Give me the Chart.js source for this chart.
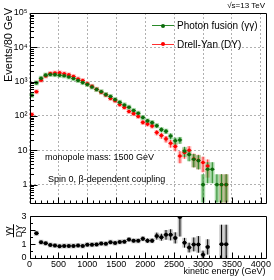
<!DOCTYPE html>
<html><head><meta charset="utf-8">
<script src="https://cdn.jsdelivr.net/npm/chart.js@4.4.0/dist/chart.umd.min.js"></script>
<style>
html,body{margin:0;padding:0;background:#fff;}
body{width:274px;height:280px;position:relative;overflow:hidden;font-family:"Liberation Sans",Arial,sans-serif;}
#c1wrap{position:absolute;left:0;top:0;width:274px;height:210px;}
#c2wrap{position:absolute;left:0;top:208px;width:274px;height:72px;overflow:hidden;}
.t{position:absolute;white-space:nowrap;color:#000;line-height:1;}
.rot{position:absolute;transform:translate(-50%,-50%) rotate(-90deg);white-space:nowrap;line-height:1;color:#000;}
.frac{display:flex;flex-direction:column;align-items:center;font-size:9px;}
.frac .den{border-top:1px solid #000;padding-top:1px;}
</style></head><body>
<div id="c2wrap"><canvas id="c2" width="274" height="72"></canvas></div>
<div id="c1wrap"><canvas id="c1" width="274" height="210"></canvas></div>

<div class="rot" style="left:8px;top:45px;font-size:11px;">Events/80 GeV</div>
<div class="rot" style="left:14px;top:231px;"><div class="frac"><span>γγ</span><span class="den">DY</span></div></div>
<div class="t" style="right:9px;top:2px;font-size:8px;">√s=13 TeV</div>
<div class="t" style="left:45px;top:152.5px;font-size:9px;">monopole mass: 1500 GeV</div>
<div class="t" style="left:48px;top:174.5px;font-size:9px;">Spin 0, β-dependent coupling</div>
<div class="t" style="right:8.5px;top:267px;font-size:9px;">kinetic energy (GeV)</div>

<div style="position:absolute;left:152px;top:25px;width:22px;height:1px;background:#2a8a2a"></div>
<div style="position:absolute;left:161px;top:23.5px;width:4px;height:4px;border-radius:50%;background:#0b6b0b"></div>
<div class="t" style="left:177px;top:21px;font-size:10px;">Photon fusion (γγ)</div>
<div style="position:absolute;left:152px;top:43.5px;width:22px;height:1px;background:#ff3030"></div>
<div style="position:absolute;left:161px;top:42px;width:4px;height:4px;border-radius:50%;background:#ff0000"></div>
<div class="t" style="left:177px;top:39.5px;font-size:10px;">Drell-Yan (DY)</div>

<script>
// ---- data (bin centres in GeV, 80 GeV bins) ----
const bins = [40,120,200,280,360,440,520,600,680,760,840,920,1000,1080,1160,1240,1320,1400,1480,1560,1640,1720,1800,1880,1960,2040,2120,2200,2280,2360,2440,2520,2600,2680,2760,2840,2920,3000,3080,3160,3240,3320,3400];
const photonFusion = [400,920,1250,1550,1620,1600,1530,1480,1370,1230,1080,940,830,700,590,510,420,370,300,250,210,180,145,120,90,72,64,52,40,36,26,19,20,9.5,7.5,5.5,5,1,2.8,2.8,1,1,1];
const photonFusionErr = [20,30,35,39,40,40,39,38,37,35,33,31,29,26,24,23,20,19,17,16,14,13,12,11,9.5,8.5,8,7.2,6.3,6,5.1,4.4,4.5,3.1,2.7,2.3,2.2,1,1.7,1.7,1,1,1];
const drellYan = [110,510,1100,1460,1720,1780,1800,1700,1575,1415,1200,1080,865,730,600,490,412,325,278,215,178,135,117,97,65,58,51,33,27,21.5,16,13,6.8,8.6,10,5.6,5.1,4.4,3.5,null,null,1,1];
const drellYanErr = [10,23,33,38,41,42,42,41,40,38,35,33,29,27,24,22,20,18,17,15,13,12,11,10,8,7.6,7.1,5.7,5.2,4.6,4,3.6,2.6,2.9,3.2,2.4,2.3,2.1,1.9,0,0,1,1];
const ratio = [null,1.78,1.14,1.06,0.94,0.90,0.85,0.87,0.87,0.87,0.90,0.87,0.96,0.96,0.98,1.04,1.02,1.14,1.08,1.16,1.18,1.33,1.24,1.24,1.39,1.25,1.25,1.58,1.50,1.67,1.67,1.45,2.95,1.10,0.75,0.98,0.98,0.23,0.80,null,null,1.0,1.0];
const ratioErr = [0,0.1,0.05,0.05,0.05,0.05,0.05,0.05,0.05,0.05,0.05,0.05,0.05,0.05,0.05,0.05,0.05,0.05,0.05,0.05,0.06,0.08,0.1,0.1,0.15,0.15,0.15,0.25,0.25,0.35,0.4,0.4,1.4,0.35,0.35,0.5,0.6,0.3,0.55,0,0,1.4,1.4];
const xTicks = [0,500,1000,1500,2000,2500,3000,3500,4000];
const xTickLabels = ['0','500','1000','1500','2000','2500','3000','3500','4000'];
const yTicks = [1,10,100,1000,10000,100000];
const yTickLabels = ['1','10','10²','10³','10⁴','10⁵'];
const ratioTicks = [0,1,2,3];
const ratioTickLabels = ['0','1','2','3'];
const xStep = 500;
const binWidth = 80;

const FONT = '"Liberation Sans", Arial, sans-serif';
const pts = (vals) => bins.map((b,i)=>({x:b, y:vals[i]}));

function crisp(v){ return Math.round(v)+0.5; }

function errPluginFactory(id){
  return {
    id,
    beforeDatasetsDraw(chart){
      const {ctx, chartArea:a} = chart;
      const x = chart.scales.x, y = chart.scales.y;
      ctx.save();
      ctx.beginPath(); ctx.rect(a.left, a.top, a.right-a.left, a.bottom-a.top); ctx.clip();
      const order = chart.data.datasets.map((d,i)=>i).reverse();
      order.forEach(di=>{
        const ds = chart.data.datasets[di];
        ds.data.forEach((p,i)=>{
          if(p.y==null) return;
          const e = ds.errs[i];
          const px = x.getPixelForValue(p.x);
          const py = y.getPixelForValue(p.y);
          const yTop = y.getPixelForValue(p.y+e);
          const lo = p.y - e;
          const yBot = (lo>0 || y.type!=='logarithmic') ? y.getPixelForValue(lo) : a.bottom+10;
          const hw = (x.getPixelForValue(p.x+binWidth/2)-x.getPixelForValue(p.x-binWidth/2))/2;
          const bt = Math.min(yTop, py-2.5), bb = Math.max(yBot, py+2.5);
          ctx.fillStyle = ds.boxColor;
          ctx.fillRect(px-2.2, bt, 4.4, bb-bt);
          ctx.strokeStyle = ds.lineColor; ctx.lineWidth = 1;
          ctx.beginPath(); ctx.moveTo(px, yTop); ctx.lineTo(px, yBot); ctx.stroke();
          ctx.beginPath(); ctx.moveTo(px-hw, py); ctx.lineTo(px+hw, py); ctx.stroke();
        });
      });
      ctx.restore();
    }
  };
}

function framePluginFactory(id, yMinor, yMajor, yMajorLen, yMinorLen){
  return {
    id,
    afterDraw(chart){
      const {ctx, chartArea:a} = chart;
      const x = chart.scales.x, y = chart.scales.y;
      ctx.save();
      ctx.strokeStyle = '#000'; ctx.lineWidth = 1;
      const L = crisp(a.left), R = crisp(a.right), T = crisp(a.top), B = crisp(a.bottom);
      ctx.beginPath(); ctx.rect(L, T, R-L, B-T); ctx.stroke();
      ctx.beginPath();
      for(let v=0; v<=x.max; v+=100){
        const px = crisp(x.getPixelForValue(v));
        const len = (v % xStep === 0) ? 6 : 3;
        ctx.moveTo(px, B); ctx.lineTo(px, B-len);
      }
      yMinor.forEach(v=>{
        if(v < y.min || v > y.max) return;
        const py = crisp(y.getPixelForValue(v));
        ctx.moveTo(L, py); ctx.lineTo(L+yMinorLen, py);
      });
      yMajor.forEach(v=>{
        const py = crisp(y.getPixelForValue(v));
        ctx.moveTo(L, py); ctx.lineTo(L+yMajorLen, py);
      });
      ctx.stroke();
      ctx.restore();
    }
  };
}

const logMinor = [];
[0.1,1,10,100,1000,10000].forEach(d=>{ for(let k=2;k<=9;k++) logMinor.push(k*d); });

// ---- main chart ----
new Chart(document.getElementById('c1'), {
  type: 'scatter',
  data: { datasets: [
    { label:'Photon fusion (γγ)', data: pts(photonFusion), errs: photonFusionErr,
      backgroundColor:'#0b6b0b', borderColor:'#0b6b0b', lineColor:'#2a8a2a', boxColor:'rgba(60,170,60,0.45)',
      pointRadius:1.8, pointBorderWidth:0, showLine:false },
    { label:'Drell-Yan (DY)', data: pts(drellYan), errs: drellYanErr,
      backgroundColor:'#ff0000', borderColor:'#ff0000', lineColor:'#ff3030', boxColor:'rgba(255,110,110,0.45)',
      pointRadius:1.8, pointBorderWidth:0, showLine:false }
  ]},
  options: {
    responsive:false, animation:false, devicePixelRatio:1,
    layout:{ padding:{ left:0, top:13, right:8.5, bottom:0 } },
    plugins:{ legend:{display:false}, tooltip:{enabled:false} },
    scales:{
      x:{ type:'linear', min:0, max:4080,
          afterBuildTicks(s){ s.ticks = xTicks.map(v=>({value:v})); },
          ticks:{ display:false },
          grid:{ color:'#b0b0b0', drawTicks:false, lineWidth:1 },
          border:{ display:false, dash:[2,2] },
          afterFit(s){ s.height = 2; } },
      y:{ type:'logarithmic', min:0.3, max:100000,
          afterBuildTicks(s){ s.ticks = yTicks.map(v=>({value:v})); },
          ticks:{ callback:(v,i)=>yTickLabels[i], font:{size:9, family:FONT}, color:'#000', padding:2, autoSkip:false },
          grid:{ color:'#b0b0b0', drawTicks:false, lineWidth:1 },
          border:{ display:false, dash:[2,2] },
          afterFit(s){ s.width = 29.5; } }
    }
  },
  plugins:[ errPluginFactory('errMain'), framePluginFactory('frameMain', logMinor, yTicks, 7, 3.5) ]
});

// ---- ratio chart ----
const ratioMinor = [0.5,1.5,2.5];
new Chart(document.getElementById('c2'), {
  type: 'scatter',
  data: { datasets: [
    { label:'γγ/DY', data: pts(ratio), errs: ratioErr,
      backgroundColor:'#000', borderColor:'#000', lineColor:'#000', boxColor:'rgba(120,120,120,0.45)',
      pointRadius:2, pointBorderWidth:0, showLine:false }
  ]},
  options: {
    responsive:false, animation:false, devicePixelRatio:1,
    layout:{ padding:{ left:0, top:0, right:8.5, bottom:0 } },
    plugins:{ legend:{display:false}, tooltip:{enabled:false} },
    scales:{
      x:{ type:'linear', min:0, max:4080,
          afterBuildTicks(s){ s.ticks = xTicks.map(v=>({value:v})); },
          ticks:{ callback:(v,i)=>xTickLabels[i], font:{size:9, family:FONT}, color:'#000', padding:1, maxRotation:0, autoSkip:false },
          grid:{ display:false, drawTicks:false },
          border:{ display:false },
          afterFit(s){ s.height = 22; } },
      y:{ type:'linear', min:0, max:3,
          afterBuildTicks(s){ s.ticks = ratioTicks.map(v=>({value:v})); },
          ticks:{ callback:(v,i)=>ratioTickLabels[i], font:{size:9, family:FONT}, color:'#000', padding:3, autoSkip:false },
          grid:{ display:false, drawTicks:false },
          border:{ display:false },
          afterFit(s){ s.width = 29.5; } }
    }
  },
  plugins:[ errPluginFactory('errRatio'), framePluginFactory('frameRatio', ratioMinor, ratioTicks, 5, 2.5) ]
});
</script>
</body></html>
